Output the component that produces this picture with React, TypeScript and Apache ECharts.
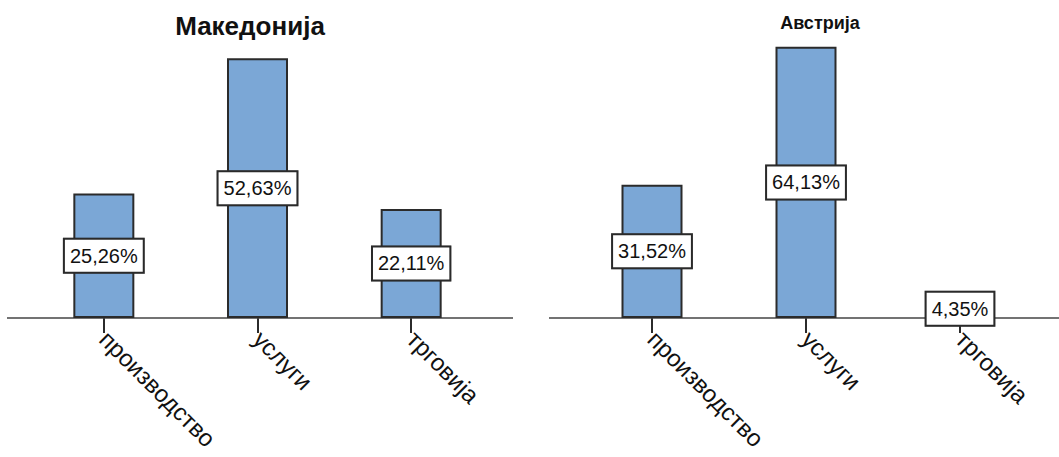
import React, { useEffect, useRef } from "react";
import * as echarts from "echarts";

const categories = ["производство", "услуги", "трговија"];
const titles = ["Македонија", "Австрија"];
const macedoniaValues = [25.26, 52.63, 22.11];
const austriaValues = [31.52, 64.13, 4.35];
const yMax = [60, 70];

const FONT = 'Arial, "Liberation Sans", sans-serif';
const BAR_COLOR = "#7BA7D6";
const DARK = "#2b2b2b";

function fmt(v: number) {
  return v.toFixed(2).replace(".", ",") + "%";
}

export default function App() {
  const ref = useRef<HTMLDivElement>(null);
  useEffect(() => {
    if (!ref.current) return;
    const chart = echarts.init(ref.current, null, { renderer: "svg" });
    const grids = [
      { left: 27, width: 461, top: 22, height: 296 },
      { left: 575, width: 462, top: 22, height: 296 },
    ];
    const makeX = (i: number) => ({
      type: "category" as const,
      gridIndex: i,
      data: categories,
      boundaryGap: true,
      axisLine: { show: false },
      axisTick: {
        show: true,
        alignWithLabel: true,
        length: 15,
        lineStyle: { color: DARK, width: 2 },
      },
      axisLabel: {
        rotate: -45,
        margin: 17,
        fontSize: 24,
        color: "#111",
        fontFamily: FONT,
      },
    });
    const makeY = (i: number) => ({
      type: "value" as const,
      gridIndex: i,
      min: 0,
      max: yMax[i],
      show: false,
      splitLine: { show: false },
    });
    const makeSeries = (i: number, data: number[]) => ({
      type: "bar" as const,
      xAxisIndex: i,
      yAxisIndex: i,
      data,
      barWidth: 61,
      z: 3,
      itemStyle: { color: BAR_COLOR, borderColor: DARK, borderWidth: 2 },
      label: {
        show: true,
        position: "inside" as const,
        formatter: (p: any) => fmt(p.value),
        fontSize: 20,
        fontFamily: FONT,
        color: "#111",
        backgroundColor: "#fff",
        borderColor: DARK,
        borderWidth: 2,
        padding: [6, 5, 6, 5],
        shadowColor: "rgba(0,0,0,0.35)",
        shadowBlur: 1,
      },
    });
    chart.setOption({
      animation: false,
      backgroundColor: "#fff",
      title: [
        {
          text: titles[0],
          left: 245,
          top: 8,
          textAlign: "center",
          textStyle: { fontSize: 26, fontWeight: "bold", fontFamily: FONT, color: "#111" },
        },
        {
          text: titles[1],
          left: 815,
          top: 9,
          textAlign: "center",
          textStyle: { fontSize: 18, fontWeight: "bold", fontFamily: FONT, color: "#111" },
        },
      ],
      grid: grids,
      xAxis: [makeX(0), makeX(1)],
      yAxis: [makeY(0), makeY(1)],
      series: [makeSeries(0, macedoniaValues), makeSeries(1, austriaValues)],
      graphic: [
        {
          type: "line",
          z: 1,
          shape: { x1: 7, y1: 318, x2: 513, y2: 318 },
          style: { stroke: "#444", lineWidth: 1.5 },
        },
        {
          type: "line",
          z: 1,
          shape: { x1: 549, y1: 318, x2: 1059, y2: 318 },
          style: { stroke: "#444", lineWidth: 1.5 },
        },
      ],
    });
    return () => chart.dispose();
  }, []);
  return (
    <div
      ref={ref}
      style={{ position: "fixed", left: 0, top: 0, width: 1059, height: 457, background: "#fff" }}
    />
  );
}
